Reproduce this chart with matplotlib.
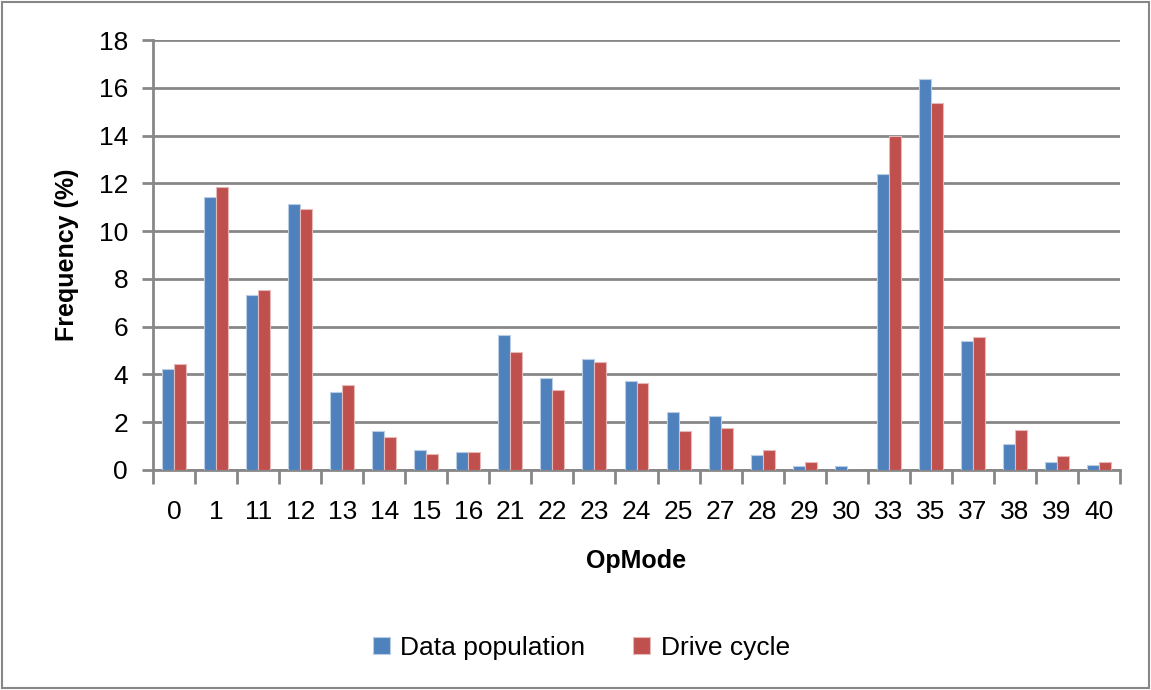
import numpy as np
import matplotlib.pyplot as plt
from matplotlib.patches import Rectangle

opmodes = ['0', '1', '11', '12', '13', '14', '15', '16', '21', '22', '23', '24',
           '25', '27', '28', '29', '30', '33', '35', '37', '38', '39', '40']
data_population = [4.24, 11.43, 7.33, 11.14, 3.25, 1.64, 0.85, 0.75, 5.64, 3.83, 4.64, 3.74,
                   2.44, 2.24, 0.64, 0.15, 0.15, 12.38, 16.38, 5.39, 1.10, 0.31, 0.19]
drive_cycle = [4.44, 11.83, 7.54, 10.94, 3.54, 1.36, 0.65, 0.75, 4.93, 3.35, 4.53, 3.64,
               1.64, 1.74, 0.85, 0.35, 0.0, 13.99, 15.38, 5.58, 1.69, 0.60, 0.31]

plt.rcParams['font.family'] = ['Liberation Sans', 'DejaVu Sans']

fig = plt.figure(figsize=(11.51, 6.90), dpi=100)
ax = fig.add_axes([0.133, 0.319, 0.840, 0.623])

x = np.arange(len(opmodes))
w = 0.285
ax.bar(x - w / 2, data_population, w, color='#4F81BD', edgecolor='#B9CDE5',
       linewidth=0.8, label='Data population', zorder=3)
ax.bar(x + w / 2, drive_cycle, w, color='#C0504D', edgecolor='#E6B9B8',
       linewidth=0.8, label='Drive cycle', zorder=3)

ax.set_ylim(0, 18)
ax.set_yticks(range(0, 19, 2))
ax.set_xlim(-0.5, len(opmodes) - 0.5)
ax.set_xticks(x)
ax.set_xticklabels(opmodes)
ax.set_xticks(np.arange(-0.5, len(opmodes)), minor=True)

ax.yaxis.grid(True, color='#878787', linewidth=2, zorder=0)
for s in ['top', 'right']:
    ax.spines[s].set_visible(False)
for s in ['left', 'bottom']:
    ax.spines[s].set_color('#878787')
    ax.spines[s].set_linewidth(2)

ax.tick_params(axis='x', which='major', length=0, labelsize=19, pad=22)
ax.tick_params(axis='x', which='minor', length=10, width=2, color='#878787')
ax.tick_params(axis='y', length=8, width=2, color='#878787', labelsize=19, pad=10)

ax.set_xlabel('OpMode', fontsize=18, fontweight='bold', labelpad=18)
ax.set_ylabel('Frequency (%)', fontsize=18, fontweight='bold', labelpad=14)

fig.legend(loc='center', bbox_to_anchor=(0.505, 0.061), ncol=2, frameon=False,
           fontsize=19, handlelength=0.65, handleheight=0.65, columnspacing=1.8,
           handletextpad=0.4)

fig.patches.append(Rectangle((0.002, 0.003), 0.996, 0.994, transform=fig.transFigure,
                             fill=False, edgecolor='#878787', linewidth=1.5))

fig.savefig('out.png', dpi=100)
